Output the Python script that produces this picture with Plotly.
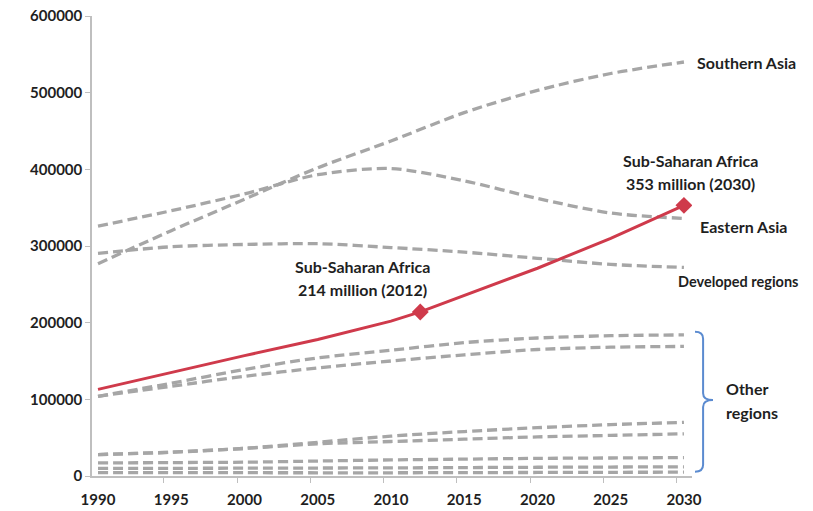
import plotly.graph_objects as go

# ---- data (thousands of persons, shown as raw values) ----
years = [1990, 1995, 2000, 2005, 2010, 2015, 2020, 2025, 2030]

southern_asia = [277000, 320000, 361000, 402000, 437000, 474000, 503000, 525000, 540000]
eastern_asia = [326000, 346000, 368000, 393000, 401000, 385000, 362000, 343000, 336000]
developed_regions = [290500, 299000, 302000, 303000, 298000, 292000, 284000, 276000, 272000]

other_a = [104000, 121000, 139000, 154000, 164000, 174000, 180000, 183000, 184000]
other_b = [104000, 117000, 130000, 141000, 150000, 158000, 165000, 168000, 169000]
other_c = [28000, 31000, 36000, 44000, 52000, 58000, 63000, 67000, 70000]
other_d = [28000, 31000, 36000, 42000, 45000, 48000, 51000, 53000, 55000]
other_e = [17000, 17500, 18000, 19500, 21000, 22000, 23000, 23500, 24000]
other_f = [10000, 10000, 10200, 10400, 10600, 11000, 11400, 11700, 12000]
other_g = [4500, 4400, 4300, 4200, 4200, 4400, 4600, 4800, 5000]

ssa_years = [1990, 1995, 2000, 2005, 2010, 2012, 2015, 2020, 2025, 2030]
ssa_values = [113000, 135000, 157000, 178000, 202000, 214000, 235000, 271000, 310000, 353000]

ssa_marked_years = [2012, 2030]
ssa_marked_values = [214000, 353000]

x_tick_labels = [str(y) for y in years]

# ---- styles ----
GRAY = "#a6a6a6"
RED = "#cf3a4b"
BLUE = "#5b8bd0"
AXIS = "#bfbfbf"
TEXT = "#1f1f1f"
FONT = "Lato"

fig = go.Figure()

gray_series = [southern_asia, eastern_asia, developed_regions,
               other_a, other_b, other_c, other_d, other_e, other_f, other_g]
for series in gray_series:
    fig.add_trace(go.Scatter(
        x=years, y=series, mode="lines",
        line=dict(color=GRAY, width=3.3, dash="10px,5px", shape="spline", smoothing=0.8),
        hoverinfo="skip",
    ))

fig.add_trace(go.Scatter(
    x=ssa_years, y=ssa_values, mode="lines",
    line=dict(color=RED, width=3),
    hoverinfo="skip",
))
fig.add_trace(go.Scatter(
    x=ssa_marked_years, y=ssa_marked_values, mode="markers",
    marker=dict(symbol="diamond", size=13, color=RED),
    hoverinfo="skip",
))

annotations = []


def add_text(text, x, y, xanchor="left", xshift=0, yshift=0, size=16, xref="x", yref="y"):
    annotations.append(dict(
        text=text, x=x, y=y, xref=xref, yref=yref,
        xanchor=xanchor, yanchor="middle", xshift=xshift, yshift=yshift,
        showarrow=False, font=dict(family=FONT, size=size, color=TEXT, weight="bold"),
    ))


# end-of-line labels
add_text("Southern Asia", years[-1], southern_asia[-1], xshift=11, yshift=0)
add_text("Eastern Asia", years[-1], eastern_asia[-1], xshift=14, yshift=-8)
add_text("Developed regions", years[-1], developed_regions[-1], xshift=-8, yshift=-14, size=14.5)

# Sub-Saharan Africa call-outs, built from the marked values
call_shift = {2012: -58, 2030: 7}
for yr, val in zip(ssa_marked_years, ssa_marked_values):
    add_text("Sub-Saharan Africa", yr, val, xanchor="center", xshift=call_shift[yr], yshift=45)
    add_text(f"{round(val / 1000)} million ({yr})", yr, val, xanchor="center",
             xshift=call_shift[yr], yshift=22)

# bracket for the remaining regions
br_top, br_mid, br_bot = 188000, 99000, 5600
r = 9000
x0, x1, x2 = 1.005, 1.0185, 1.035
path = (
    f"M{x0},{br_top} Q{x1},{br_top} {x1},{br_top - r} "
    f"L{x1},{br_mid + r} Q{x1},{br_mid} {x2},{br_mid} "
    f"Q{x1},{br_mid} {x1},{br_mid - r} "
    f"L{x1},{br_bot + r} Q{x1},{br_bot} {x0},{br_bot}"
)
fig.add_shape(type="path", path=path, xref="paper", yref="y",
              line=dict(color=BLUE, width=2))

add_text("Other", 1.0533, br_mid, xref="paper", yshift=12)
add_text("regions", 1.0533, br_mid, xref="paper", yshift=-12)

fig.update_layout(
    width=813, height=511,
    margin=dict(l=92, r=121, t=16, b=35),
    paper_bgcolor="white", plot_bgcolor="white",
    showlegend=False,
    annotations=annotations,
    font=dict(family=FONT, color=TEXT),
)

fig.update_xaxes(
    automargin=False,
    range=[1989.59, 2030.55],
    tickmode="array", tickvals=years, ticktext=x_tick_labels,
    ticks="outside", ticklen=9, tickcolor="rgba(0,0,0,0)",
    tickfont=dict(family=FONT, size=15, color=TEXT, weight="bold"),
    showline=True, linecolor=AXIS, linewidth=1.5,
    showgrid=False, zeroline=False,
    minor=dict(tickvals=[y - 0.5 for y in years], ticks="outside", ticklen=5,
               tickcolor=AXIS, showgrid=False),
)
fig.update_yaxes(
    automargin=False,
    range=[0, 600000], dtick=100000, tickformat="d",
    ticks="outside", ticklen=5, tickcolor=AXIS,
    tickfont=dict(family=FONT, size=15, color=TEXT, weight="bold"),
    showline=True, linecolor=AXIS, linewidth=1.5,
    showgrid=False, zeroline=False,
)

fig.write_html("out.html")
